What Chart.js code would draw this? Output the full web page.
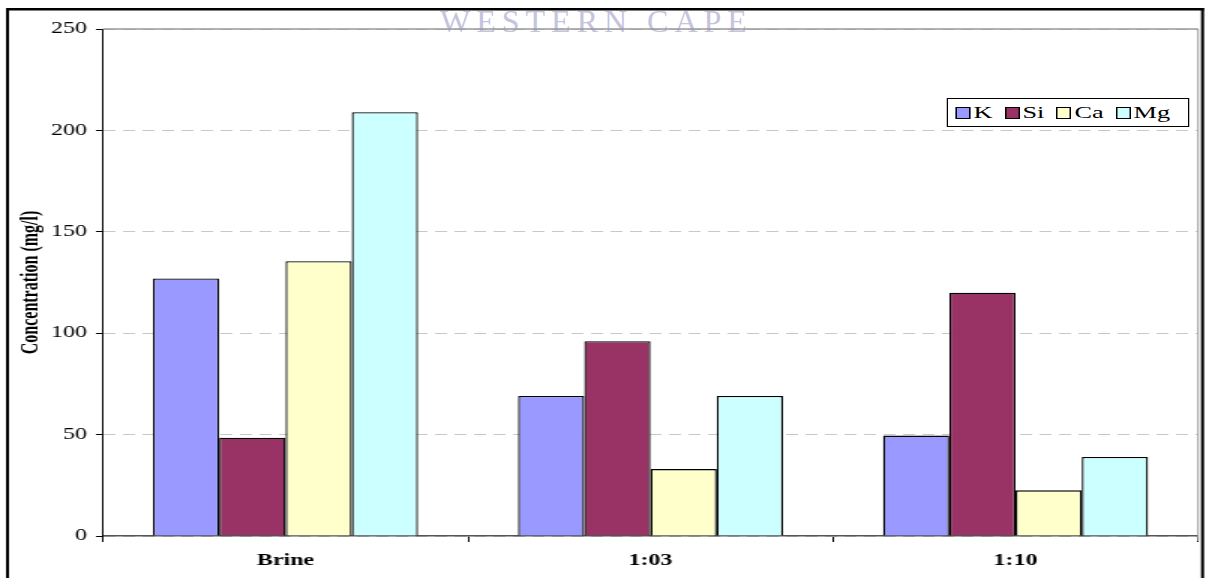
<!DOCTYPE html>
<html>
<head>
<meta charset="utf-8">
<script src="https://cdn.jsdelivr.net/npm/chart.js@4"></script>
<style>
  html, body { margin: 0; padding: 0; background: #fff; }
  body { width: 1206px; height: 578px; overflow: hidden; position: relative; }
  #marca {
    position: absolute; left: 440px; top: 3px;
    font-family: 'Liberation Serif', 'Times New Roman', serif;
    font-size: 32px; letter-spacing: 6px; color: #c4c4dc;
    white-space: nowrap; line-height: 36px;
  }
  /* o grafico e desenhado em 804px e esticado na horizontal */
  #palco {
    position: absolute; left: 0; top: 0; width: 804px; height: 578px;
    transform: scaleX(1.5); transform-origin: 0 0;
  }
  #myChart { position: absolute; left: 0; top: 0; }
  #legenda {
    position: absolute; left: 631px; top: 98px; width: 162px; height: 29px;
    box-sizing: border-box; border: 1px solid #000; background: #fff;
    display: flex; align-items: center; padding-left: 5px;
    font-family: 'Liberation Serif', 'Times New Roman', serif; font-size: 17.5px; color: #000;
  }
  .item { display: flex; align-items: center; margin-right: 8px; }
  .caixa { width: 8px; height: 10px; border: 1px solid #000; margin-right: 2px; }
</style>
</head>
<body>
<div id="marca">WESTERN CAPE</div>
<div id="palco">
  <canvas id="myChart" width="804" height="578"></canvas>
  <div id="legenda"></div>
</div>
<script>
// dados do grafico
const categorias = ['Brine', '1:03', '1:10'];
const elementos = ['K', 'Si', 'Ca', 'Mg'];
const valoresK = [127, 69, 49.5];
const valoresSi = [48.5, 96, 120];
const valoresCa = [135.5, 33, 22.5];
const valoresMg = [209, 69, 39];
const ticksY = [0, 50, 100, 150, 200, 250];

const cores = ['#9999ff', '#993366', '#ffffcc', '#ccffff'];
const series = [valoresK, valoresSi, valoresCa, valoresMg];

Chart.defaults.font.family = "'Liberation Serif', 'Times New Roman', serif";
Chart.defaults.color = '#000';

// moldura preta e borda cinza da area do grafico
const moldura = {
  id: 'moldura',
  afterDraw(chart) {
    const ctx = chart.ctx;
    const area = chart.chartArea;
    ctx.save();
    ctx.strokeStyle = '#999';
    ctx.lineWidth = 1.5;
    ctx.beginPath();
    ctx.moveTo(area.left, area.top);
    ctx.lineTo(area.right, area.top);
    ctx.stroke();
    ctx.lineWidth = 1;
    ctx.beginPath();
    ctx.moveTo(area.right, area.top);
    ctx.lineTo(area.right, area.bottom + 5);
    ctx.stroke();
    ctx.fillStyle = '#000';
    ctx.fillRect(4, 8, 798.7, 2.5);
    ctx.fillRect(4, 8, 2, 600);
    ctx.fillRect(800.7, 8, 2, 600);
    ctx.restore();
  }
};

const ctx = document.getElementById('myChart').getContext('2d');

const grafico = new Chart(ctx, {
  type: 'bar',
  data: {
    labels: categorias,
    datasets: elementos.map((nome, i) => ({
      label: nome,
      data: series[i],
      backgroundColor: cores[i],
      borderColor: '#000',
      borderWidth: 1.3,
      borderSkipped: 'bottom',
      categoryPercentage: 0.726,
      barPercentage: 1
    }))
  },
  options: {
    responsive: false,
    animation: false,
    layout: { padding: { left: 0, top: 29, right: 5.3, bottom: 0 } },
    plugins: {
      legend: { display: false },
      tooltip: { enabled: false }
    },
    scales: {
      x: {
        afterFit: (scale) => { scale.height = 42; },
        grid: {
          offset: true,
          drawOnChartArea: false,
          tickLength: 6,
          tickColor: '#000',
          tickWidth: 1
        },
        border: { color: '#555', width: 1.5 },
        ticks: {
          font: { size: 16, weight: 'bold' },
          padding: 9,
          maxRotation: 0
        }
      },
      y: {
        min: 0,
        max: 250,
        afterFit: (scale) => { scale.width = 68.67; },
        afterBuildTicks: (scale) => { scale.ticks = ticksY.map(v => ({ value: v })); },
        grid: {
          color: '#c8c8c8',
          lineWidth: 1,
          tickLength: 4.7,
          tickColor: '#000',
          tickWidth: 1
        },
        border: { color: '#000', width: 1, dash: [8, 5] },
        ticks: {
          font: { size: 16 },
          padding: 6
        },
        title: {
          display: true,
          text: 'Concentration (mg/l)',
          font: { size: 16, weight: 'bold' },
          padding: { top: 11, bottom: 0 }
        }
      }
    }
  },
  plugins: [moldura]
});

// legenda em html
const legenda = document.getElementById('legenda');
elementos.forEach((nome, i) => {
  const item = document.createElement('div');
  item.className = 'item';
  item.innerHTML = '<div class="caixa" style="background:' + cores[i] + '"></div><span>' + nome + '</span>';
  legenda.appendChild(item);
});
</script>
</body>
</html>
